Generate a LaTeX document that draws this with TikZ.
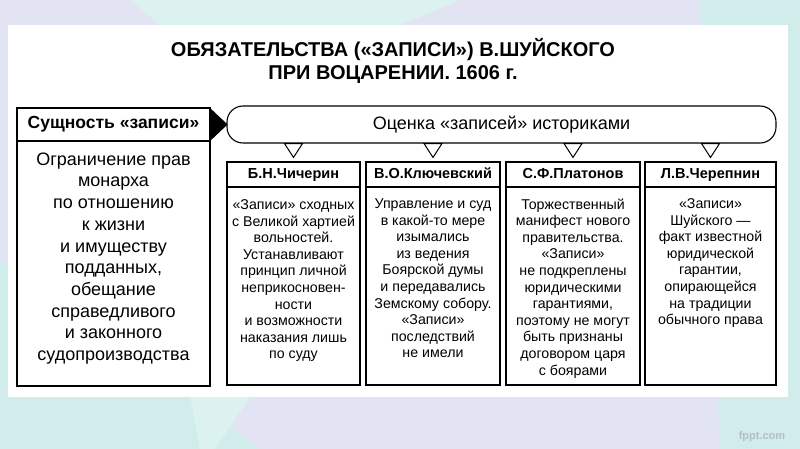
\documentclass[tikz,border=0pt]{standalone}
\usepackage{fontspec}
\setmainfont{Liberation Sans}
\usetikzlibrary{calc}
\definecolor{lav}{HTML}{E2E4F3}
\definecolor{teal1}{HTML}{D0EDEC}
\definecolor{teal2}{HTML}{DCF2F1}
\definecolor{wmark}{HTML}{B5BEC4}
\tikzset{
  box/.style={draw=black, line width=1.1pt, fill=white, rectangle, inner sep=0pt},
  hdr/.style={font=\bfseries\fontsize{14.5}{16}\selectfont, text height=10.5pt, text depth=3pt},
  body/.style={font=\fontsize{14.2}{16.6}\selectfont, align=center, anchor=north, inner sep=0pt},
  tri/.style={draw=black, fill=white, line width=1pt, line join=miter},
}
\begin{document}
\begin{tikzpicture}[x=1pt,y=-1pt]
\useasboundingbox (0,0) rectangle (800,449);
% background
\fill[lav] (0,0) rectangle (800,449);
\fill[teal1] (0,260) -- (260,449) -- (0,449) -- cycle;
\fill[teal2] (190,397) -- (250,397) -- (215,449) -- (200,449) -- cycle;
\fill[teal2] (130,0) -- (460,0) -- (400,25) -- (160,25) -- cycle;
\fill[teal1] (700,0) -- (800,0) -- (800,449) -- (720,449) -- cycle;
\fill[white] (8,25) rectangle (788,397);
% title
\node[font=\bfseries\fontsize{20}{23}\selectfont, align=center, inner sep=0pt] (title) at (393,61)
  {ОБЯЗАТЕЛЬСТВА («ЗАПИСИ») В.ШУЙСКОГО\\ПРИ ВОЦАРЕНИИ. 1606 г.};
% left column
\node[box, minimum width=193, minimum height=33, font=\bfseries\fontsize{17.5}{20}\selectfont, text height=12.5pt, text depth=4pt] (lh) at (113.5,124.5) {Сущность «записи»};
\node[box, minimum width=193, minimum height=245] (lb) at (113.5,263.5) {};
\node[body, font=\fontsize{18}{21.7}\selectfont] (lt) at ($(lb.north)+(0,12)$)
  {Ограничение прав\\монарха\\по отношению\\к жизни\\и имуществу\\подданных,\\обещание\\справедливого\\и законного\\судопроизводства};
% pill
\node[draw=black, line width=1.1pt, rounded corners=16pt, minimum width=549, minimum height=37, inner sep=0pt,
  font=\fontsize{18}{20}\selectfont] (pill) at (501.5,124.5) {Оценка «записей» историками};
% black arrow from left header to pill
\fill[black] ($(lh.north east)+(0,1)$) -- ($(lh.east)+(17,0)$) -- ($(lh.south east)+(0,-1)$) -- cycle;
% columns
\foreach \n/\cx/\w/\name in {1/293.5/133/Б.Н.Чичерин, 2/433/134/В.О.Ключевский, 3/573/134/С.Ф.Платонов, 4/710.5/131/Л.В.Черепнин}{
  \node[box, hdr, minimum width=\w, minimum height=25] (h\n) at (\cx,174.5) {\name};
  \node[box, minimum width=\w, minimum height=198] (b\n) at (\cx,286) {};
  \draw[tri] ($(h\n.north |- pill.south)+(-9,0)$) -- ($(h\n.north |- pill.south)+(9,0)$) -- ($(h\n.north)+(0,-4)$) -- cycle;
}
\node[body] (t1) at ($(b1.north)+(0,13)$)
  {«Записи» сходных\\с Великой хартией\\вольностей.\\Устанавливают\\принцип личной\\неприкосновен-\\ности\\и возможности\\наказания лишь\\по суду};
\node[body] (t2) at ($(b2.north)+(0,12)$)
  {Управление и суд\\в какой-то мере\\изымались\\из ведения\\Боярской думы\\и передавались\\Земскому собору.\\«Записи»\\последствий\\не имели};
\node[body] (t3) at ($(b3.north)+(0,12)$)
  {Торжественный\\манифест нового\\правительства.\\«Записи»\\не подкреплены\\юридическими\\гарантиями,\\поэтому не могут\\быть признаны\\договором царя\\с боярами};
\node[body] (t4) at ($(b4.north)+(0,12)$)
  {«Записи»\\Шуйского —\\факт известной\\юридической\\гарантии,\\опирающейся\\на традиции\\обычного права};
% watermark
\node[font=\bfseries\fontsize{11}{13}\selectfont, text=wmark, inner sep=0pt] (wm) at (762,437) {fppt.com};
\end{tikzpicture}
\end{document}
